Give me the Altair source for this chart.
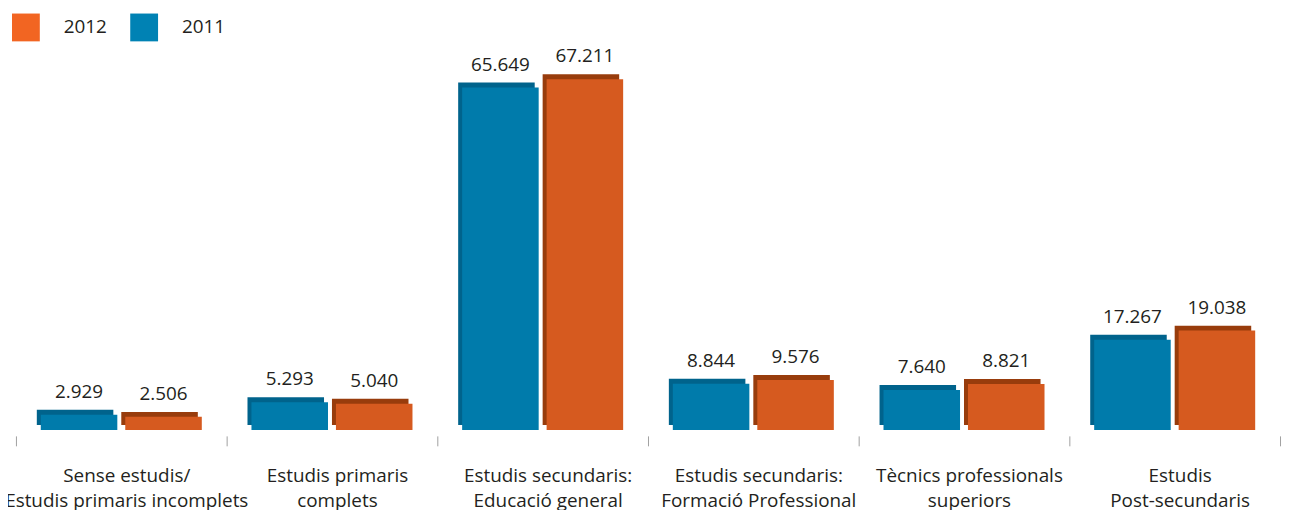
import altair as alt
import pandas as pd

categories = [
    "Sense estudis/|Estudis primaris incomplets",
    "Estudis  primaris|complets",
    "Estudis secundaris:|Educació general",
    "Estudis secundaris:|Formació Professional",
    "Tècnics  professionals|superiors",
    "Estudis|Post-secundaris",
]
years = ["2011", "2012"]
legend_years = ["2012", "2011"]
values_2011 = [2.929, 5.293, 65.649, 8.844, 7.640, 17.267]
values_2012 = [2.506, 5.040, 67.211, 9.576, 8.821, 19.038]

front_colors = ["#007bab", "#d65a1f"]
side_colors = ["#00638c", "#983c0c"]
legend_colors = ["#f26522", "#0082b4"]

rows = []
for c, a, b in zip(categories, values_2011, values_2012):
    rows.append({"cat": c, "year": "2011", "value": a})
    rows.append({"cat": c, "year": "2012", "value": b})
df = pd.DataFrame(rows)

FONT = "Open Sans"
TXT = "#231f20"

x = alt.X(
    "cat:N",
    sort=categories,
    scale=alt.Scale(paddingInner=0, paddingOuter=0),
    axis=alt.Axis(
        title=None,
        domain=False,
        tickBand="extent",
        tickSize=10,
        offset=6,
        tickColor="#a0a0a0",
        tickWidth=1,
        labelExpr="split(datum.label, '|')",
        labelFontSize=19,
        labelFont=FONT,
        labelColor=TXT,
        labelPadding=21,
        labelOffset=5,
        labelBaseline="top",
        labelLineHeight=25,
        labelAngle=0,
        labelLimit=0,
        labelOverlap=False,
    ),
)
xo_front = alt.XOffset("year:N", sort=years,
                       scale=alt.Scale(type="band", paddingInner=0.094, paddingOuter=0.294))
xo_side = alt.XOffset("year:N", sort=years,
                      scale=alt.Scale(type="band", paddingInner=0.094, paddingOuter=0.294, align=0.42))
y = alt.Y("value:Q", scale=alt.Scale(domain=[0, 80.57], nice=False, zero=True), axis=None)

base = alt.Chart(df).encode(x=x, y=y)

dark = base.mark_bar(yOffset=-5).encode(
    xOffset=xo_side,
    color=alt.Color("year:N", scale=alt.Scale(domain=years, range=side_colors), legend=None),
)
front = base.mark_bar().encode(
    xOffset=xo_front,
    color=alt.Color("year:N", scale=alt.Scale(domain=years, range=front_colors), legend=None),
)
legend_layer = base.mark_square(opacity=0).encode(
    xOffset=xo_front,
    color=alt.Color(
        "year:N",
        scale=alt.Scale(domain=legend_years, range=legend_colors),
        legend=alt.Legend(
            title=None,
            orient="none",
            legendX=-4,
            legendY=4,
            direction="horizontal",
            symbolType="square",
            symbolSize=784,
            symbolStrokeWidth=0,
            symbolOpacity=1,
            labelFontSize=19,
            labelFont=FONT,
            labelColor=TXT,
            labelOffset=24,
            columnPadding=23,
            padding=0,
        ),
    ),
)
labels = base.mark_text(dy=-17, baseline="alphabetic", fontSize=19, font=FONT, color=TXT).encode(
    xOffset=alt.XOffset("year:N", sort=years, bandPosition=0.5,
                        scale=alt.Scale(type="band", paddingInner=0.094, paddingOuter=0.294)),
    text=alt.Text("value:Q", format=".3f"),
)

chart = (
    alt.layer(dark, front, legend_layer, labels)
    .resolve_scale(color="independent", xOffset="independent")
    .properties(
        width=1272,
        height=423,
        autosize=alt.AutoSizeParams(type="none"),
        padding={"left": 8, "top": 0, "right": 4, "bottom": 79},
    )
    .configure_view(stroke=None)
)

chart.save("out.html", embed_options={"renderer": "svg", "actions": False})
